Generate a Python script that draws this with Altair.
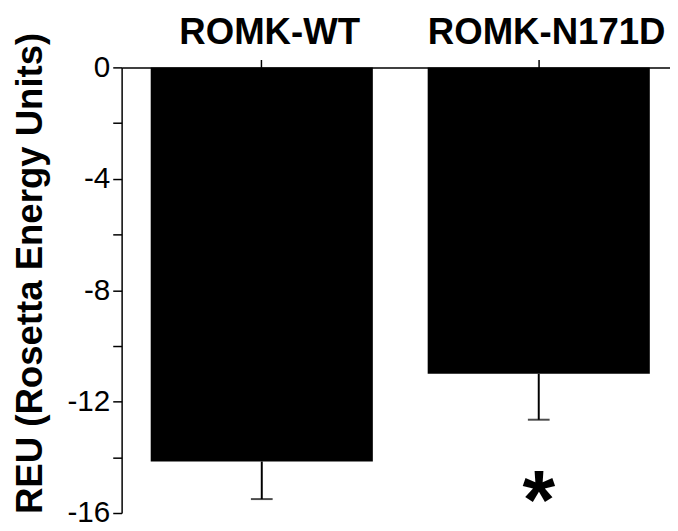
import altair as alt
import pandas as pd

categories = ["ROMK-WT", "ROMK-N171D"]
means = [-14.15, -11.0]
errors = [1.35, 1.65]
marks = ["", "*"]
star_y = [-14.93, -14.93]

df = pd.DataFrame({"cat": categories, "mean": means, "err": errors,
                   "sig": marks, "sy": star_y})

FONT = "Liberation Sans"
xscale = alt.Scale(domain=categories, paddingInner=0.198, paddingOuter=0.105)
yscale = alt.Scale(domain=[-16, 0], nice=False, zero=False)

x = alt.X("cat:N", scale=xscale, sort=categories,
          axis=alt.Axis(orient="top", title=None, labelAngle=0, labelFont=FONT,
                        labelFontSize=37, labelFontWeight="bold", labelColor="black",
                        labelBaseline="alphabetic", labelPadding=16, labelLimit=0,
                        labelOffset=8,
                        tickSize=8, tickColor="black", tickWidth=1.5,
                        domainColor="black", domainWidth=1.5))

base = alt.Chart(df)

bars = base.mark_bar(color="black").encode(
    x=x,
    y=alt.Y("mean:Q", scale=yscale,
            axis=alt.Axis(values=list(range(0, -17, -2)),
                          labelExpr="datum.value % 4 == 0 ? '' + datum.value : ''",
                          labelFont=FONT, labelFontSize=30, labelColor="black",
                          labelPadding=3, tickSize=9, tickColor="black", tickWidth=1.5,
                          domainColor="black", domainWidth=1.5, grid=False,
                          title="REU (Rosetta Energy Units)", titleFont=FONT,
                          titleFontSize=37, titleFontWeight="bold", titleColor="black",
                          titleAngle=-90, titleX=-92, titleY=208, titleAlign="center",
                          titleBaseline="middle")),
    y2=alt.datum(0),
)

rule = base.transform_calculate(low="datum.mean - datum.err").mark_rule(
    color="black", strokeWidth=2).encode(x=alt.X("cat:N", sort=categories), y="mean:Q", y2="low:Q")

cap = base.transform_calculate(low="datum.mean - datum.err").mark_tick(
    color="black", size=22, thickness=2).encode(x=alt.X("cat:N", sort=categories), y="low:Q")

star = base.mark_text(font=FONT, fontSize=85, fontWeight="bold", color="black",
                      baseline="alphabetic", dy=46).encode(
    x=alt.X("cat:N", sort=categories), y="sy:Q", text="sig:N")

chart = alt.layer(bars, rule, cap, star).properties(
    width=564, height=451,
    autosize=alt.AutoSizeParams(type="none"),
    padding={"left": 115, "top": 57, "right": -9, "bottom": 7},
).configure_view(stroke=None).configure_axis(grid=False)

chart.save("out.html", embed_options={"renderer": "svg", "actions": False})
